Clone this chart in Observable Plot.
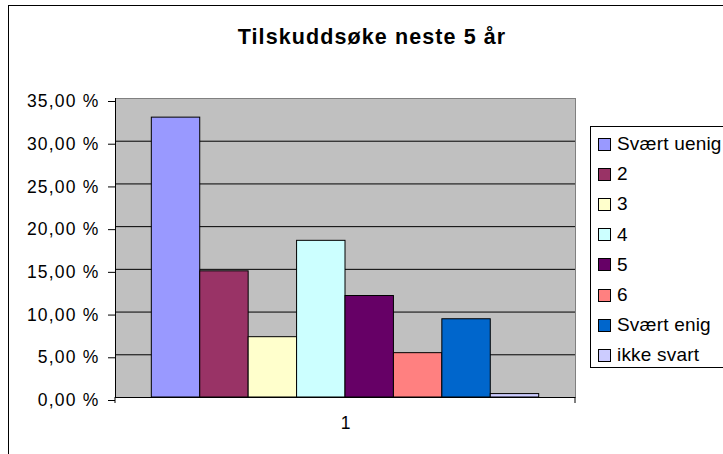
<!DOCTYPE html>
<html>
<head>
<meta charset="utf-8">
<script src="https://cdn.jsdelivr.net/npm/d3@7"></script>
<script src="https://cdn.jsdelivr.net/npm/@observablehq/plot@0.6"></script>
<style>
  html, body { margin: 0; padding: 0; background: #fff; }
  body { width: 723px; height: 454px; overflow: hidden; position: relative; font-family: "Liberation Sans", Arial, sans-serif; }
  #border { position: absolute; left: 8px; top: 5px; width: 800px; height: 600px; border: 1px solid #000; box-sizing: border-box; }
  #title { position: absolute; left: 0; width: 744px; top: 25px; text-align: center; font-weight: bold; font-size: 21.5px; letter-spacing: 1.1px; color: #000; }
  #chart { position: absolute; left: 0; top: 0; }
  #chart svg g[aria-label="y-axis tick label"] text { letter-spacing: 1.2px; }
  #legend { position: absolute; left: 590px; top: 126px; width: 200px; height: 242px; border: 1px solid #000; box-sizing: border-box; background: #fff; padding-top: 2px; }
  .item { height: 30.2px; display: flex; align-items: center; font-size: 19px; letter-spacing: 0.2px; color: #000; }
  .sw { width: 11px; height: 11px; border: 1px solid #000; margin-left: 7px; margin-right: 6px; flex: none; }
</style>
</head>
<body>
<div id="border"></div>
<div id="chart"></div>
<div id="title"></div>
<div id="legend"></div>
<script>
const titleText = "Tilskuddsøke neste 5 år";
const seriesNames = ["Svært uenig", "2", "3", "4", "5", "6", "Svært enig", "ikke svart"];
const seriesValues = [32.76, 14.77, 7.06, 18.34, 11.88, 5.19, 9.16, 0.40];
const seriesColors = ["#9999FF", "#993366", "#FFFFCC", "#CCFFFF", "#660066", "#FF8080", "#0066CC", "#CCCCFF"];
const categoryLabels = ["1"];
const yTicks = [0, 5, 10, 15, 20, 25, 30, 35];

const data = seriesNames.map((name, i) => ({name, value: seriesValues[i]}));
const fmt = d => d.toFixed(2).replace(".", ",") + " %";

document.getElementById("title").textContent = titleText;

const endTicks = (index, scales, values, dimensions) => {
  const {width, height, marginLeft, marginRight, marginBottom} = dimensions;
  const g = d3.create("svg:g").attr("stroke", "#000").attr("stroke-width", 1);
  const yb = height - marginBottom;
  for (const x of [marginLeft, width - marginRight]) {
    g.append("line").attr("x1", x).attr("x2", x).attr("y1", yb).attr("y2", yb + 6);
  }
  return g.node();
};

const chart = Plot.plot({
  width: 723,
  height: 454,
  marginLeft: 115,
  marginRight: 148,
  marginTop: 98,
  marginBottom: 57,
  style: {background: "transparent", fontFamily: "'Liberation Sans', Arial, sans-serif", color: "#000"},
  x: {domain: seriesNames, paddingInner: 0, paddingOuter: 0.75, round: false, axis: null},
  y: {domain: [0, 35], axis: null},
  color: {domain: seriesNames, range: seriesColors},
  marks: [
    Plot.frame({fill: "#C0C0C0", stroke: "#808080"}),
    Plot.gridY(yTicks.filter(d => d > 0 && d < 35), {stroke: "#000", strokeOpacity: 1}),
    Plot.barY(data, {x: "name", y: "value", fill: "name", stroke: "#000", strokeWidth: 1}),
    Plot.frame({anchor: "left", stroke: "#000"}),
    Plot.ruleY([0], {stroke: "#000"}),
    endTicks,
    Plot.axisY({ticks: yTicks, tickFormat: fmt, tickSize: 7, tickPadding: 9, fontSize: 17.5, dy: 3, stroke: "#000", label: null}),
    Plot.text(categoryLabels, {text: d => d, frameAnchor: "bottom", dy: 31, fontSize: 17.5, fill: "#000"})
  ]
});
document.getElementById("chart").appendChild(chart);

const legend = document.getElementById("legend");
seriesNames.forEach((name, i) => {
  const row = document.createElement("div");
  row.className = "item";
  const sw = document.createElement("span");
  sw.className = "sw";
  sw.style.background = seriesColors[i];
  const label = document.createElement("span");
  label.textContent = name;
  row.appendChild(sw);
  row.appendChild(label);
  legend.appendChild(row);
});
</script>
</body>
</html>
